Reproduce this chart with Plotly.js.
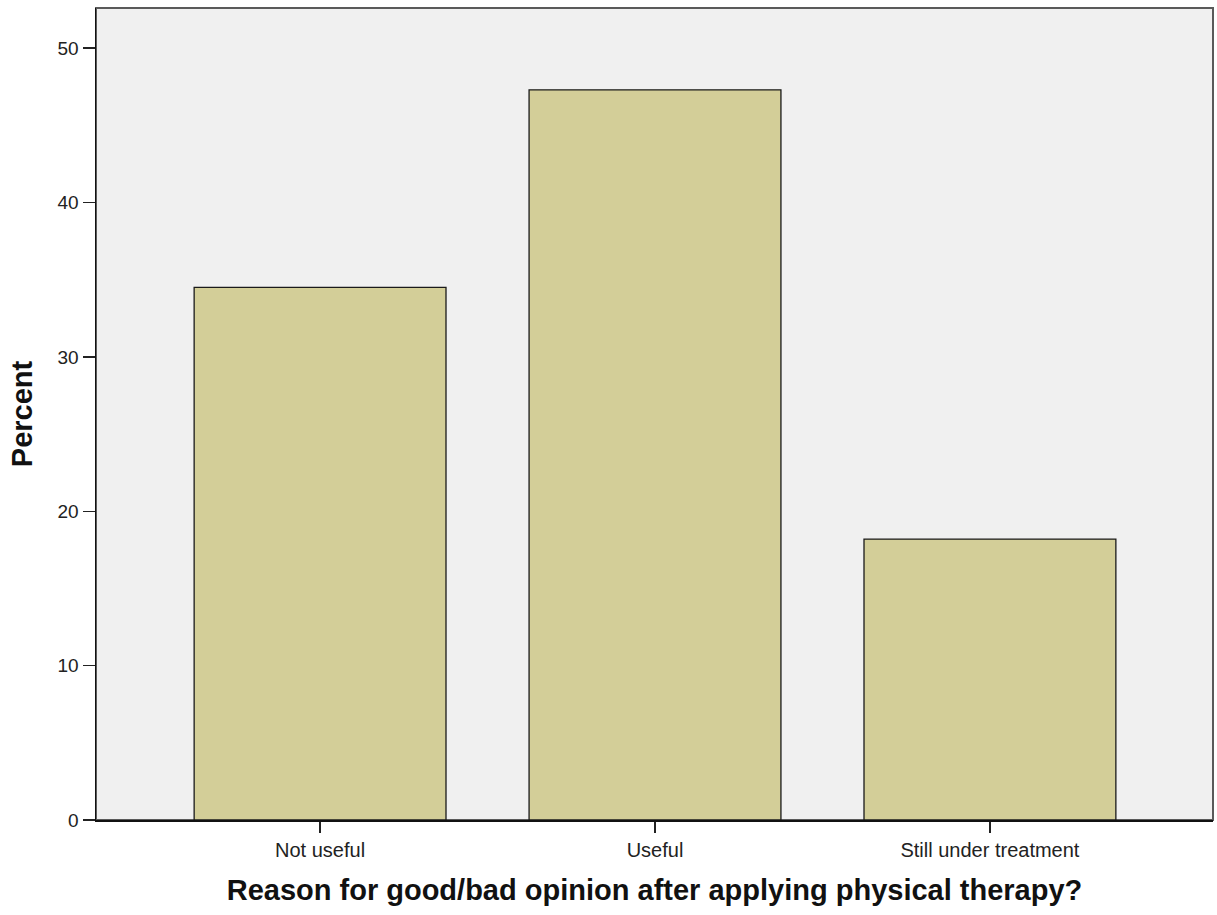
<!DOCTYPE html>
<html>
<head>
<meta charset="utf-8">
<script src="https://cdn.plot.ly/plotly-3.0.1.min.js"></script>
<style>html,body{margin:0;padding:0;background:#fff;}#chart{width:1217px;height:915px;}</style>
</head>
<body>
<div id="chart"></div>
<script>
const categories = ["Not useful", "Useful", "Still under treatment"];
const percents = [34.5, 47.3, 18.2];
const yTicks = [0, 10, 20, 30, 40, 50];

const trace = {
  type: "bar",
  x: [0, 1, 2],
  y: percents,
  width: 0.752,
  marker: {color: "#d3ce98", line: {color: "#1a1a1a", width: 1.3}},
  hoverinfo: "skip"
};

const layout = {
  width: 1217, height: 915,
  margin: {l: 96, r: 4, t: 8, b: 95},
  paper_bgcolor: "#ffffff",
  plot_bgcolor: "#f0f0f0",
  showlegend: false,
  font: {family: "Liberation Sans, Arial, sans-serif", color: "#222"},
  xaxis: {
    range: [-0.669, 2.666],
    tickvals: [0, 1, 2],
    ticktext: categories,
    ticks: "outside", ticklen: 11, tickwidth: 1.5, tickcolor: "#222",
    showline: true, linecolor: "#111", linewidth: 1.5,
    showgrid: false, zeroline: false, automargin: false,
    tickfont: {size: 20, color: "#222"},
    title: {text: "Reason for good/bad opinion after applying physical therapy?",
            font: {size: 29, color: "#111", family: "Liberation Sans, Arial, sans-serif", weight: "bold"},
            standoff: 20}
  },
  yaxis: {
    range: [0, 52.6],
    tickvals: yTicks,
    ticks: "outside", ticklen: 12, tickwidth: 1.5, tickcolor: "#222",
    showline: true, linecolor: "#111", linewidth: 1.5,
    showgrid: false, zeroline: false, automargin: false,
    tickfont: {size: 19, color: "#222"},
    title: {text: "Percent",
            font: {size: 29, color: "#111", family: "Liberation Sans, Arial, sans-serif", weight: "bold"},
            standoff: 16}
  },
  shapes: [{
    type: "rect", xref: "paper", yref: "paper", x0: 0, x1: 1, y0: 0, y1: 1,
    line: {color: "#5a5a5a", width: 2}, layer: "below"
  }]
};

Plotly.newPlot("chart", [trace], layout, {staticPlot: true, displayModeBar: false});
</script>
</body>
</html>
